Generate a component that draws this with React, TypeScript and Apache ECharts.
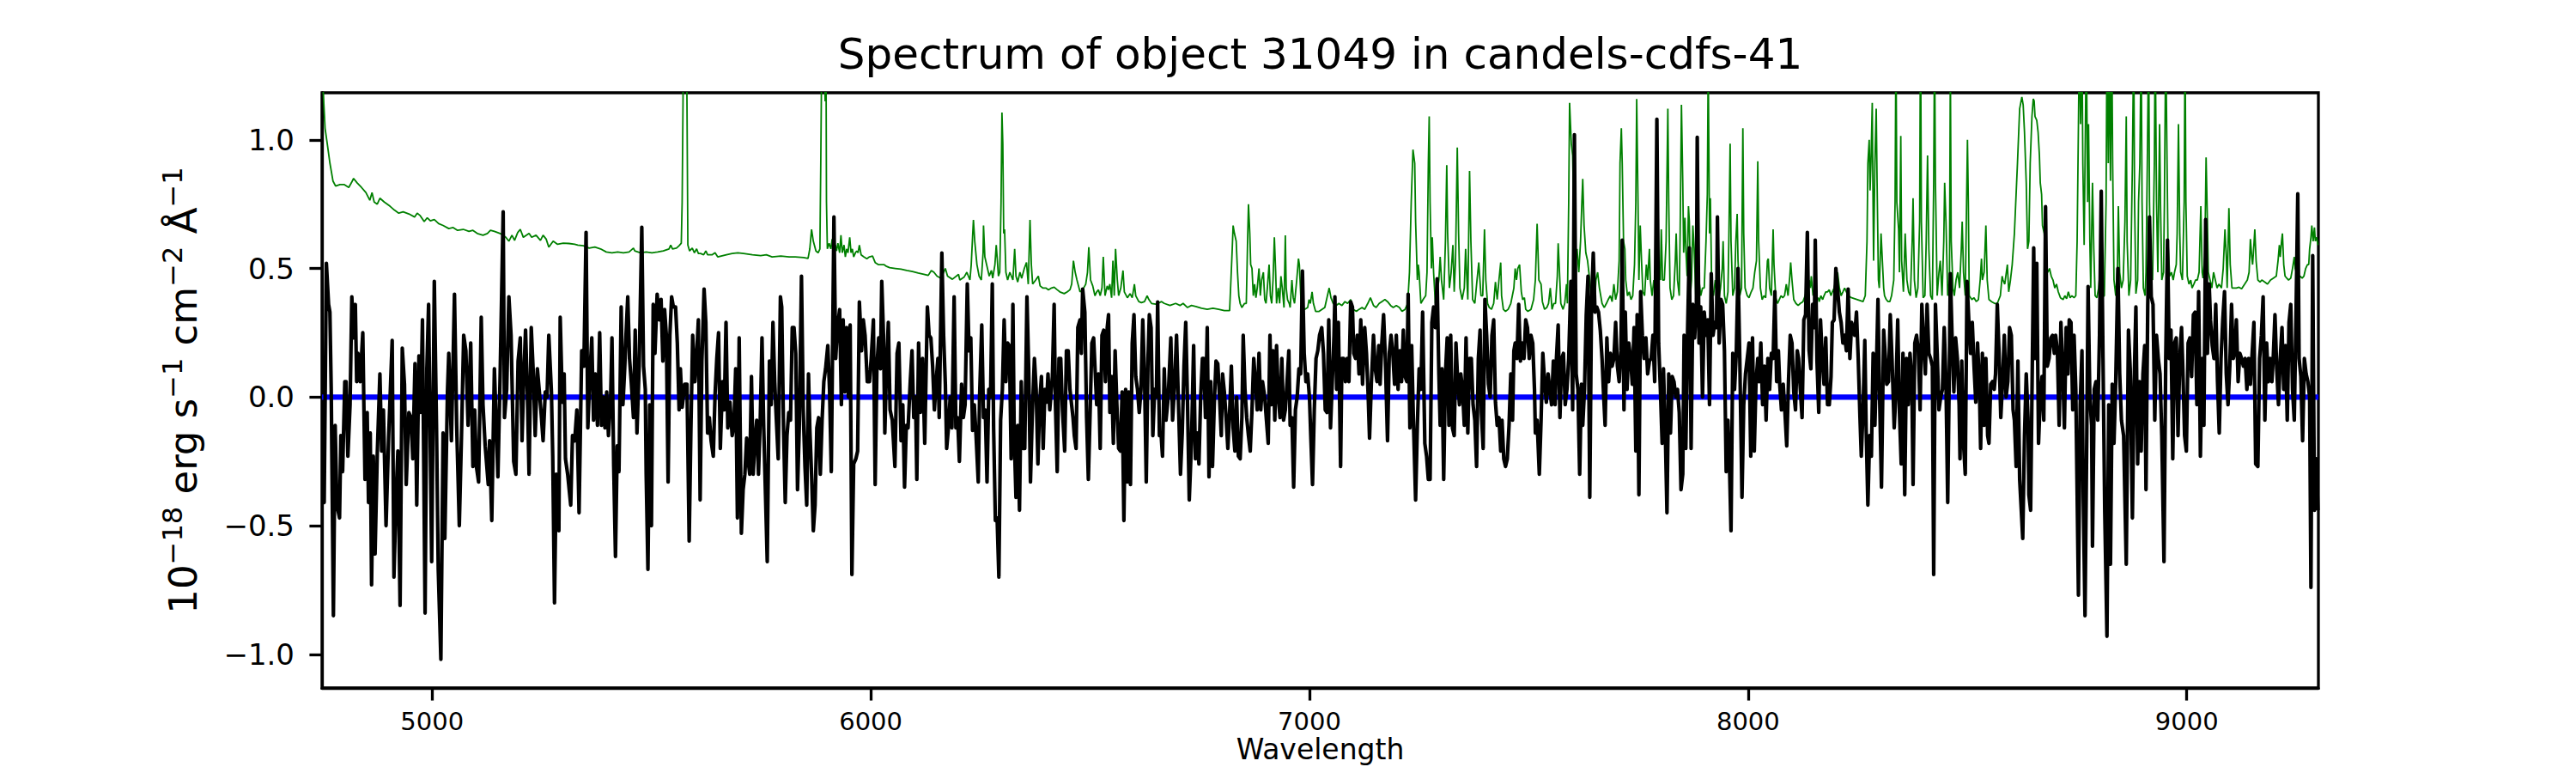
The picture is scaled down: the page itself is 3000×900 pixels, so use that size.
import React, { useEffect, useRef } from "react";
import * as echarts from "echarts";

// ---- Object spectrum (black), [wavelength Å, flux 1e-18 erg/s/cm2/Å] ----
const obj4750: [number, number][] = [[4749,-0.41],[4754,-0.41],[4759,0.52],[4764,0.36],[4767,0.33],[4770,0.03],[4775,-0.85],[4779,-0.11],[4783,-0.42],[4789,-0.47],[4792,-0.15],[4796,-0.29],[4801,0.06],[4804,0.06],[4808,-0.23],[4813,-0.03],[4817,0.39],[4821,0.23],[4825,0.36],[4828,0.06],[4831,0.17],[4836,0.06],[4842,0.25],[4847,-0.32],[4852,-0.06],[4855,-0.41],[4859,-0.14],[4862,-0.73],[4866,-0.23],[4870,-0.61],[4875,-0.22],[4881,0.09],[4885,-0.21],[4889,-0.05],[4895,-0.5],[4901,-0.15],[4909,0.22],[4913,-0.7],[4918,-0.38],[4922,-0.21],[4927,-0.81],[4932,0.19],[4937,0.05],[4941,-0.34],[4947,-0.06],[4952,-0.08],[4956,-0.24],[4961,0.13],[4965,-0.42],[4970,0.16],[4974,-0.06],[4978,0.3],[4984,-0.84],[4988,0.11],[4992,0.36],[4999,-0.64],[5005,0.45],[5010,-0.11],[5014,-0.67],[5020,-1.02],[5025,-0.14],[5029,-0.55],[5035,0.02],[5038,0.17],[5044,-0.17],[5051,0.4],[5056,-0.11],[5062,-0.5],[5067,-0.15],[5072,0.24],[5077,0.18],[5082,-0.11],[5088,0.21],[5093,-0.27],[5097,-0.05],[5101,-0.27],[5106,-0.33],[5112,0.31],[5116,-0.03],[5121,-0.19],[5128,-0.34],[5131,-0.17],[5136,-0.48],[5142,0.11],[5150,-0.31],[5155,0.08],[5162,0.72],[5165,-0.08],[5170,0.03],[5175,0.39],[5180,0.24],[5186,-0.25],[5191,-0.3],[5196,0.14],[5201,0.23],[5205,-0.17],[5209,0.08],[5213,0.26],[5217,0.03],[5221,-0.3],[5226,0.27],[5231,0.08],[5235,-0.15],[5240,0.11],[5244,0.03],[5248,-0.05],[5253,-0.17],[5258,0.02],[5262,0],[5266,0.24],[5272,0.02],[5275,-0.23],[5279,-0.8],[5283,-0.3],[5289,-0.52],[5292,0.31],[5297,-0.02],[5301,0.09],[5304,-0.24],[5309,-0.3],[5316,-0.42],[5320,-0.15]];
const obj5325: [number, number][] = [[5325,-0.17],[5330,-0.05],[5335,-0.45],[5341,0.18],[5346,0.12],[5351,0.64],[5355,-0.12],[5359,0.06],[5364,0.23],[5368,-0.09],[5372,0.09],[5377,-0.11],[5382,0.25],[5386,-0.11],[5390,0],[5394,-0.12],[5398,0.02],[5402,-0.15],[5407,0],[5410,0.23],[5414,-0.27],[5418,-0.62],[5422,-0.19],[5426,-0.29],[5431,0.35],[5435,-0.03],[5439,0.11],[5442,0.24],[5446,0.39],[5450,0.15],[5454,0.06],[5459,-0.08],[5463,0.26],[5467,-0.14],[5472,0.12],[5478,0.66],[5482,0.12],[5486,0.03],[5488,-0.3],[5492,-0.67],[5496,-0.03],[5500,-0.5],[5504,0.36],[5508,0.17],[5513,0.4],[5518,0.3],[5522,0.38],[5526,0.14],[5530,0.34],[5534,0.24],[5538,-0.33],[5542,0.24],[5546,0.39],[5550,0.35],[5555,0.35],[5559,0.21],[5563,-0.05],[5566,0.11],[5570,-0.04],[5576,0.05],[5581,0.05],[5586,-0.56],[5590,-0.12],[5594,0.24],[5599,0.06],[5603,0.16],[5607,0.3],[5611,-0.4],[5615,0.14],[5620,0.42],[5624,0.29],[5628,-0.14],[5632,-0.08],[5636,-0.17],[5641,-0.23],[5645,0.01],[5649,0.15],[5653,0.25],[5657,-0.2],[5662,0.06],[5666,-0.05],[5670,0.29],[5674,-0.12],[5679,-0.02],[5684,-0.15],[5688,-0.11],[5692,0.11],[5696,-0.47],[5700,0.23],[5705,-0.53],[5709,-0.36],[5713,-0.3],[5717,-0.16],[5720,-0.24],[5724,-0.3],[5728,0.08],[5732,-0.3],[5736,-0.17],[5740,-0.09],[5744,-0.3],[5748,-0.09],[5752,0.23],[5756,-0.12],[5760,-0.38],[5764,-0.64],[5769,0.14],[5773,-0.03],[5777,0.29],[5781,0.06],[5784,-0.06],[5789,-0.24],[5794,0.39],[5797,0.35],[5801,-0.11],[5805,-0.41],[5809,-0.15],[5813,-0.06],[5817,-0.09],[5821,0.27],[5825,0.27],[5829,0.17],[5833,-0.36],[5837,-0.12],[5842,0.47],[5846,-0.05],[5850,-0.27],[5854,-0.42],[5858,0.09],[5861,-0.12],[5865,-0.3],[5869,-0.52],[5873,-0.42],[5877,-0.12],[5881,-0.08],[5885,-0.3],[5889,-0.09]];
const obj5890: [number, number][] = [[5893,0.06],[5897,0.11],[5902,0.2],[5906,0.03],[5910,-0.29],[5916,0.7],[5920,0.15],[5924,0.27],[5929,0.34],[5933,-0.03],[5937,0.3],[5941,0.02],[5945,0.27],[5949,0],[5953,0.28],[5957,-0.69],[5961,-0.26],[5966,-0.24],[5970,-0.21],[5974,0.37],[5979,0.18],[5983,0.3],[5987,0.24],[5992,0.06],[5997,0.06],[6001,0.15],[6006,0.3],[6010,-0.34],[6014,0.12],[6018,0.23],[6022,0.11],[6025,0.45],[6029,0.24],[6032,-0.14],[6036,0.12],[6040,0.29],[6044,-0.05],[6049,-0.09],[6055,-0.27],[6060,0.17],[6064,0.21],[6069,-0.17],[6073,-0.03],[6077,-0.35],[6081,-0.11],[6085,-0.12],[6090,0.06],[6094,0.18],[6098,-0.08],[6102,0],[6105,-0.32],[6109,0.21],[6113,-0.06],[6118,0.15],[6123,-0.18],[6129,0.35],[6133,0.24],[6137,0.23],[6141,0.12],[6145,-0.05],[6149,0.06],[6153,0.15],[6156,-0.08],[6162,0.56],[6166,0.24],[6170,0.05],[6173,-0.2],[6177,-0.12],[6181,0],[6185,-0.12],[6190,0.39],[6194,-0.12],[6198,-0.08],[6202,-0.25],[6207,0.05],[6211,-0.08],[6215,-0.03],[6220,0.44],[6224,0.18],[6228,0.23],[6232,-0.13],[6236,-0.03],[6240,-0.15],[6245,-0.33],[6248,0],[6253,0.28],[6257,-0.08],[6261,-0.05],[6265,-0.33],[6269,0.03],[6273,0],[6277,0.44],[6280,-0.12],[6284,-0.48],[6288,-0.47],[6292,-0.7],[6296,-0.09],[6300,0.03],[6304,0.3],[6308,0.06],[6312,0.21],[6316,0.2],[6320,-0.24],[6324,0.36],[6327,-0.15],[6331,-0.39],[6335,-0.11],[6339,-0.44],[6343,0.06],[6347,-0.2],[6351,-0.2],[6356,0.39],[6360,0.11],[6364,-0.33],[6368,-0.08],[6373,0.15],[6377,0.03],[6381,-0.26],[6385,-0.02],[6389,0.08],[6393,-0.2],[6397,0.03],[6401,-0.02],[6404,0.09],[6408,-0.05],[6414,0.08],[6418,0.36],[6421,-0.03],[6425,-0.29],[6429,0.15],[6433,0.15],[6437,-0.05],[6442,-0.21],[6446,0.18],[6450,0.18],[6454,0.03]];
const obj6460: [number, number][] = [[6461,-0.08],[6464,-0.15],[6468,-0.2],[6472,0.27],[6477,0.3],[6480,0.17],[6483,0.42],[6488,0.33],[6492,-0.08],[6496,-0.32],[6500,-0.06],[6504,0.21],[6508,0.23],[6511,0.12],[6515,-0.03],[6519,0.09],[6523,-0.2],[6527,0.24],[6531,0.26],[6535,0.06],[6539,0.27],[6542,0.32],[6545,-0.06],[6549,0.08],[6553,-0.18],[6557,0.18],[6561,-0.03],[6565,-0.2],[6569,-0.21],[6573,0.02],[6577,-0.48],[6581,0.03],[6585,-0.33],[6588,0.02],[6592,-0.34],[6596,0.21],[6600,0.32],[6604,0.08],[6608,0.03],[6612,-0.06],[6616,0.03],[6620,0.3],[6624,0.08],[6628,-0.33],[6632,0.15],[6635,0.32],[6639,0.27],[6643,-0.15],[6647,0.03],[6651,0],[6654,0.37],[6658,-0.15],[6662,-0.15],[6665,-0.23],[6669,0.11],[6673,-0.09],[6678,0],[6684,0.23],[6688,-0.09],[6692,0.03],[6697,0.24],[6701,0],[6706,-0.3],[6710,-0.14],[6714,0.12],[6718,0.29],[6722,-0.02],[6726,-0.4],[6731,-0.18],[6736,0.2],[6740,-0.24],[6744,-0.14],[6748,-0.26],[6752,0],[6756,0.15],[6759,0.15],[6763,-0.08],[6767,0.27],[6771,-0.31],[6775,0.06],[6779,-0.27],[6783,-0.03],[6787,0.14],[6791,0.13],[6795,0],[6799,-0.15],[6802,0.09],[6806,0.02],[6810,-0.08],[6814,-0.2],[6818,-0.06],[6822,0.12],[6826,-0.12],[6830,-0.21],[6834,0],[6838,-0.23],[6842,-0.24],[6846,-0.08],[6849,0.24],[6853,0.03],[6857,-0.08],[6861,-0.15],[6865,-0.21],[6869,-0.05],[6873,0.15],[6877,0.06],[6881,-0.05],[6885,0.17],[6889,-0.05],[6893,0.06],[6898,0],[6902,-0.09],[6906,-0.18],[6910,0.24],[6913,-0.03],[6917,0.18],[6921,-0.09],[6925,0.2],[6929,0],[6933,-0.08],[6937,0.15],[6941,-0.09],[6945,-0.05],[6949,0.06],[6953,0.18],[6956,-0.11],[6960,-0.08],[6964,-0.35],[6968,-0.05],[6972,0],[6976,0.11],[6980,0.09],[6984,0.49],[6988,0.17],[6992,0.06],[6996,0.09],[7000,0],[7003,-0.15],[7007,-0.34],[7011,-0.05],[7015,0.15],[7019,0.18],[7023,0.24]];
const obj7030: [number, number][] = [[7028,0.27],[7032,0.17],[7036,-0.05],[7040,-0.06],[7044,0.3],[7048,-0.12],[7052,0.06],[7056,0.24],[7058,0.39],[7062,0.03],[7066,0.29],[7071,-0.27],[7074,0.15],[7078,0.15],[7082,0.06],[7086,0.15],[7090,0.06],[7094,0.37],[7098,0.35],[7101,0.17],[7105,0.15],[7109,0.24],[7113,0.09],[7117,0.3],[7121,0.05],[7126,0.27],[7130,0.17],[7134,0],[7137,-0.16],[7141,0.05],[7146,0.24],[7150,0.11],[7154,0.06],[7158,0.2],[7161,0.05],[7165,0.21],[7169,0.32],[7173,0.15],[7178,-0.17],[7182,0.17],[7186,0.24],[7190,0.17],[7194,0.05],[7198,0.24],[7202,0.03],[7206,0.18],[7210,0.06],[7214,0.26],[7218,0.08],[7222,0.06],[7225,0.4],[7229,-0.12],[7233,0.2],[7237,-0.09],[7242,-0.4],[7246,-0.11],[7250,0.11],[7254,0.03],[7258,0.33],[7263,-0.18],[7267,-0.23],[7271,-0.32],[7275,-0.32],[7279,0.29],[7283,0.35],[7287,0.27],[7291,0.46],[7295,0.09],[7298,-0.11],[7302,0.11],[7306,-0.32],[7310,0.09],[7314,0.23],[7318,-0.11],[7322,0.24],[7326,-0.12],[7330,-0.15],[7334,0.21],[7338,0.06],[7342,-0.03],[7345,0.09],[7349,0.03],[7353,-0.11],[7357,0.23],[7361,-0.14],[7365,0.15],[7369,0.15],[7373,-0.03],[7377,-0.09],[7381,-0.27],[7385,0.15],[7389,0.26],[7392,-0.06],[7396,-0.2],[7400,0.38],[7404,0.24],[7408,0.05],[7412,0],[7416,0.24],[7420,0.3],[7424,-0.02],[7428,-0.11],[7432,-0.08],[7436,-0.21],[7439,-0.09],[7443,-0.24],[7447,-0.27],[7451,-0.24],[7455,-0.11],[7459,0.09],[7463,-0.09],[7466,0.18],[7469,0.21],[7473,0.15],[7477,0.36],[7481,0.14],[7485,0.21],[7489,0.15],[7493,0.3],[7497,0.27],[7501,0.15],[7505,0.24],[7509,0.21],[7513,0.03],[7515,-0.14],[7519,-0.09],[7524,-0.3],[7528,-0.09],[7532,0.17],[7536,0.06],[7540,-0.02],[7544,0.09],[7548,0.03],[7552,-0.03],[7556,0.14],[7560,-0.03],[7563,0.15],[7567,0.28],[7571,-0.08],[7575,0.15],[7579,0.17],[7583,-0.03],[7587,0.03],[7591,0.15]];
const obj7595: [number, number][] = [[7596,0.45],[7600,-0.05],[7604,1.02],[7608,0.09],[7612,0.03],[7616,-0.3],[7620,0.05],[7623,-0.11],[7627,0.03],[7631,0.32],[7635,0.47],[7639,-0.39],[7643,0.36],[7647,0.56],[7651,0.33],[7655,0.35],[7659,0.33],[7663,0.26],[7667,0.15],[7670,0.03],[7674,-0.11],[7678,0.23],[7682,0.06],[7686,0.17],[7690,0.12],[7694,0.15],[7698,0.29],[7702,0.12],[7706,0.06],[7710,0.18],[7713,0.61],[7717,-0.05],[7720,0.33],[7724,0.03],[7728,0.21],[7732,0.15],[7736,0.05],[7740,0.27],[7744,-0.21],[7747,0.32],[7751,-0.38],[7755,0.41],[7759,0.24],[7763,0.15],[7767,0.23],[7771,0.09],[7775,0.14],[7779,0.15],[7783,0.24],[7787,0.06],[7792,1.08],[7796,0.21],[7800,0.03],[7804,-0.18],[7807,0.11],[7811,-0.12],[7815,-0.45],[7819,0.09],[7823,-0.14],[7827,0.08],[7831,0.06],[7835,0],[7839,0.03],[7843,-0.06],[7847,-0.36],[7851,-0.3],[7854,0.24],[7858,-0.2],[7862,0.26],[7866,0.58],[7870,-0.2],[7874,0.36],[7878,0.23],[7882,0.35],[7884,1.01],[7888,0.21],[7892,0.35],[7896,0],[7900,0.33],[7904,0.24],[7908,0.3],[7912,-0.03],[7916,0.48],[7920,0.24],[7924,0.29],[7928,0.27],[7930,0.7],[7934,0.21],[7938,0.38],[7942,0.36],[7946,0.18],[7950,-0.29],[7954,-0.09],[7958,-0.3],[7961,-0.52],[7965,0.17],[7969,0.03],[7973,0.17],[7977,0.5],[7981,0.15],[7986,-0.39],[7990,-0.03],[7994,0.09],[7998,0.15],[8002,0.21],[8006,-0.23],[8010,0.23],[8014,-0.21],[8018,0.06],[8022,0.15],[8025,0.06],[8029,0.21],[8033,-0.03],[8037,0.12],[8041,-0.09],[8045,0.15],[8049,0.03],[8053,0.17],[8057,0.15],[8061,0.41],[8065,0.06],[8069,0.18],[8072,0.05],[8076,-0.05],[8080,0.05],[8084,-0.06],[8088,-0.19],[8092,0.06],[8096,0.24],[8100,0.21],[8104,0.02],[8108,-0.05],[8112,0.18],[8115,0.15],[8119,0.03],[8123,-0.08],[8127,0.3],[8131,0.32],[8135,0.64],[8139,0.18],[8143,0.11],[8147,0.36],[8151,0.27],[8153,0.61],[8157,0.14],[8161,-0.06]];
const obj8165: [number, number][] = [[8165,0.3],[8169,0.15],[8173,0.05],[8177,0.23],[8181,-0.03],[8185,-0.03],[8189,0.08],[8192,0.29],[8196,0.3],[8200,0.5],[8204,0.42],[8208,0.33],[8212,0.29],[8216,0.21],[8220,0.24],[8224,0.18],[8228,0.42],[8232,0.15],[8236,0.29],[8239,0.27],[8243,0.24],[8247,0.33],[8251,0.15],[8255,-0.08],[8258,-0.23],[8262,-0.05],[8266,0.22],[8269,-0.12],[8273,-0.42],[8277,-0.15],[8281,-0.23],[8285,0.17],[8289,-0.11],[8293,0.15],[8296,0.38],[8299,0.06],[8304,-0.35],[8309,0.26],[8313,0.15],[8316,0.05],[8320,0.06],[8324,0.32],[8328,0.15],[8333,-0.12],[8337,0.02],[8341,0.3],[8345,-0.06],[8349,-0.26],[8353,0.17],[8357,-0.38],[8361,0.15],[8365,-0.03],[8369,0.17],[8373,0.08],[8376,-0.34],[8380,0.21],[8384,0.24],[8388,0.18],[8392,-0.05],[8396,0.36],[8400,0.21],[8404,0.09],[8408,0.36],[8412,0.17],[8416,0.15],[8420,0.12],[8423,-0.69],[8427,0.36],[8431,0.17],[8435,-0.05],[8439,0],[8443,0.03],[8447,0.27],[8451,0.06],[8455,-0.41],[8459,0.15],[8461,0.48],[8465,0.23],[8469,0.02],[8473,0.23],[8477,0.15],[8481,-0.03],[8483,-0.24],[8487,0.14],[8491,-0.18],[8495,-0.3],[8499,0.45],[8503,0.3],[8507,0.17],[8511,0.29],[8515,0.12],[8519,-0.02],[8523,0.21],[8527,0.06],[8530,-0.2],[8534,0.17],[8538,-0.11],[8542,0.15],[8546,-0.15],[8549,-0.18],[8553,0.05],[8557,0.06],[8561,0.03],[8564,0.09],[8568,0.36],[8572,0.17],[8576,-0.08],[8580,0.06],[8584,0.24],[8588,0],[8592,0.06],[8596,0.27],[8600,0.24],[8604,-0.05],[8607,-0.09],[8611,-0.27],[8615,0.14],[8619,-0.32],[8623,-0.45],[8626,-0.55],[8630,-0.15],[8634,0.09],[8638,-0.08],[8640,-0.38],[8644,-0.44],[8648,0.15],[8651,0.58],[8654,0.15],[8658,0.52],[8662,-0.18],[8666,0],[8670,0.08],[8674,-0.09],[8678,0.74],[8682,0.12],[8686,0.15],[8690,0.23],[8694,0.24],[8698,0.17],[8701,0.24],[8705,0.18],[8709,-0.11],[8713,0.29],[8717,0.12],[8721,-0.12],[8725,0.27],[8729,0.09]];
const obj8730: [number, number][] = [[8732,0.3],[8736,0.29],[8740,-0.05],[8743,0.24],[8747,0.03],[8753,-0.77],[8757,-0.03],[8761,0.18],[8764,-0.39],[8768,-0.85],[8772,-0.15],[8775,0.43],[8779,0],[8783,-0.11],[8785,-0.58],[8789,0.03],[8793,0.06],[8797,-0.09],[8801,0.24],[8805,0.8],[8809,0.15],[8813,-0.45],[8818,-0.93],[8822,-0.03],[8826,-0.65],[8830,0.05],[8834,-0.18],[8838,0.06],[8843,0.5],[8847,0.09],[8851,-0.09],[8856,-0.15],[8862,-0.65],[8867,0.26],[8871,0.11],[8876,-0.47],[8880,0.06],[8884,0.35],[8888,-0.26],[8892,0.06],[8896,-0.21],[8900,0.09],[8904,0.2],[8907,-0.36],[8911,0.36],[8915,0.7],[8919,0.39],[8923,0.36],[8927,-0.09],[8931,0.24],[8935,0.15],[8939,0.09],[8943,-0.15],[8948,-0.64],[8952,0.15],[8956,0.61],[8960,0.15],[8964,0.26],[8968,-0.24],[8972,0.21],[8976,0.23],[8980,-0.15],[8984,0.15],[8988,0.27],[8991,0.11],[8995,-0.15],[8999,-0.21],[9003,0.21],[9007,0.23],[9011,0.08],[9015,0.32],[9019,0.33],[9023,-0.03],[9027,0.41],[9031,-0.23],[9035,0.15],[9039,-0.11],[9043,0.69],[9047,0.17],[9051,0.44],[9054,0.3],[9058,0.2],[9062,0.15],[9066,0.36],[9070,0.06],[9074,-0.14],[9078,0.15],[9082,0.3],[9086,0.41],[9090,0.09],[9094,-0.03],[9098,0.12],[9102,0.36],[9106,0.15],[9110,0.18],[9113,0.3],[9117,0.06],[9121,0.17],[9125,0.15],[9129,0.12],[9133,0.15],[9137,0.03],[9141,0.15],[9145,0.05],[9149,0.17],[9153,0.29],[9157,-0.26],[9162,-0.27],[9166,0.15],[9170,0.24],[9174,0.39],[9178,-0.09],[9182,0.21],[9186,0.06],[9190,0.15],[9194,0.06],[9197,0.15],[9201,0.32],[9205,0.11],[9209,-0.03],[9213,0.15],[9217,0.27],[9221,0.03],[9225,0.2],[9229,-0.09],[9233,0.29],[9237,0.36],[9241,0.03],[9245,-0.09],[9249,0.32],[9253,0.79],[9256,0.15],[9260,0.08],[9264,-0.17],[9268,0.15],[9272,0.09],[9276,0.06],[9280,0],[9283,-0.74],[9287,0.55],[9291,-0.44],[9295,-0.24],[9299,-0.44]];

// ---- Sky / noise spectrum (green) ----
const sky4750: [number, number][] = [[4749,1.3],[4752,1.18],[4756,1.045],[4761,0.985],[4767,0.91],[4774,0.84],[4780,0.82],[4790,0.826],[4800,0.826],[4810,0.815],[4816,0.833],[4821,0.85],[4829,0.833],[4839,0.815],[4849,0.795],[4858,0.765],[4863,0.795],[4868,0.758],[4875,0.75],[4881,0.773],[4891,0.758],[4904,0.742],[4914,0.727],[4924,0.715],[4934,0.72],[4947,0.712],[4960,0.7],[4966,0.715],[4973,0.705],[4982,0.682],[4989,0.697],[4996,0.685],[5005,0.69],[5015,0.674],[5025,0.667],[5038,0.655],[5048,0.659],[5058,0.648],[5071,0.652],[5084,0.644],[5093,0.648],[5103,0.636],[5116,0.629],[5126,0.636],[5133,0.648],[5142,0.644],[5155,0.636],[5168,0.621],[5175,0.606],[5182,0.629],[5188,0.609],[5195,0.639],[5201,0.652],[5208,0.621],[5221,0.636],[5227,0.621],[5237,0.629],[5247,0.609],[5253,0.629],[5260,0.614],[5266,0.583],[5276,0.606],[5286,0.594],[5299,0.598],[5312,0.597],[5325,0.594]];
const sky5330: [number, number][] = [[5332,0.591],[5345,0.588],[5358,0.579],[5371,0.583],[5384,0.576],[5397,0.564],[5410,0.561],[5423,0.564],[5436,0.561],[5449,0.564],[5459,0.579],[5462,0.568],[5475,0.561],[5488,0.564],[5501,0.561],[5514,0.564],[5527,0.568],[5540,0.576],[5544,0.591],[5548,0.576],[5557,0.579],[5563,0.588],[5568,0.598],[5570,0.758],[5572,1.15],[5574,1.8],[5578,1.8],[5581,1.15],[5583,0.591],[5587,0.568],[5593,0.579],[5598,0.561],[5603,0.576],[5607,0.558],[5612,0.558],[5619,0.553],[5624,0.568],[5628,0.553],[5638,0.553],[5645,0.561],[5651,0.545],[5671,0.553],[5684,0.558],[5697,0.561],[5710,0.558],[5730,0.553],[5749,0.55],[5762,0.553],[5775,0.545],[5795,0.548],[5814,0.545],[5828,0.545],[5847,0.542],[5857,0.539],[5861,0.576],[5865,0.652],[5869,0.606],[5875,0.568],[5880,0.561],[5884,0.576],[5886,0.909],[5889,1.5]];
const sky5890: [number, number][] = [[5893,1.4],[5896,1.15],[5898,1.3],[5899,0.758],[5901,0.576],[5905,0.598],[5909,0.576],[5912,0.614],[5916,0.576],[5919,0.591],[5922,0.568],[5925,0.598],[5929,0.561],[5932,0.629],[5935,0.561],[5939,0.591],[5942,0.545],[5945,0.576],[5948,0.561],[5952,0.621],[5955,0.561],[5958,0.576],[5961,0.545],[5965,0.561],[5968,0.568],[5971,0.561],[5974,0.591],[5978,0.553],[5984,0.545],[5991,0.538],[5997,0.545],[6004,0.548],[6010,0.523],[6017,0.515],[6030,0.515],[6036,0.508],[6043,0.503],[6056,0.5],[6069,0.497],[6082,0.492],[6095,0.488],[6108,0.482],[6121,0.477],[6131,0.473],[6138,0.492],[6144,0.485],[6151,0.47],[6160,0.462],[6170,0.5],[6175,0.47],[6186,0.458],[6200,0.477],[6203,0.455],[6213,0.467],[6219,0.485],[6226,0.455],[6229,0.515],[6232,0.621],[6234,0.689],[6237,0.606],[6242,0.515],[6247,0.47],[6252,0.455],[6256,0.561],[6257,0.667],[6260,0.545],[6264,0.515],[6266,0.5],[6270,0.47],[6275,0.492],[6278,0.462],[6283,0.515],[6286,0.591],[6288,0.545],[6291,0.47],[6294,0.485],[6297,0.758],[6299,1.106],[6301,0.985],[6303,0.636],[6305,0.652],[6308,0.485],[6312,0.455],[6317,0.485],[6324,0.455],[6328,0.576],[6331,0.47],[6335,0.447],[6340,0.485],[6344,0.462],[6350,0.5],[6355,0.523],[6359,0.439],[6363,0.689],[6366,0.515],[6369,0.439],[6376,0.455],[6382,0.47],[6386,0.432],[6392,0.424],[6399,0.424],[6405,0.417],[6412,0.424],[6418,0.427],[6425,0.417],[6431,0.409],[6441,0.402],[6448,0.409],[6454,0.417],[6458,0.439]];
const sky6460: [number, number][] = [[6462,0.53],[6466,0.485],[6470,0.455],[6477,0.409],[6483,0.417],[6490,0.439],[6494,0.485],[6497,0.583],[6501,0.455],[6506,0.432],[6511,0.394],[6515,0.409],[6519,0.417],[6523,0.394],[6527,0.424],[6530,0.545],[6534,0.394],[6539,0.432],[6542,0.417],[6545,0.439],[6549,0.386],[6552,0.53],[6555,0.394],[6558,0.576],[6562,0.455],[6565,0.394],[6570,0.424],[6575,0.492],[6578,0.409],[6585,0.386],[6591,0.402],[6596,0.386],[6601,0.439],[6604,0.394],[6611,0.371],[6617,0.367],[6624,0.371],[6630,0.394],[6634,0.379],[6640,0.364],[6650,0.361],[6663,0.371],[6669,0.364],[6682,0.356],[6695,0.364],[6705,0.356],[6712,0.364],[6722,0.348],[6731,0.356],[6741,0.352],[6754,0.345],[6767,0.341],[6780,0.345],[6793,0.341],[6806,0.336],[6818,0.336],[6821,0.455],[6824,0.576],[6826,0.667],[6829,0.636],[6833,0.606],[6836,0.485],[6839,0.394],[6842,0.364],[6846,0.348],[6852,0.364],[6856,0.364],[6859,0.606],[6861,0.75],[6864,0.636],[6866,0.515],[6869,0.5],[6872,0.394],[6875,0.439],[6878,0.386],[6881,0.424],[6885,0.5],[6888,0.394],[6891,0.455],[6895,0.485],[6898,0.379],[6901,0.364],[6904,0.424],[6908,0.515],[6911,0.394],[6914,0.364],[6917,0.455],[6920,0.621],[6923,0.485],[6925,0.364],[6929,0.424],[6932,0.364],[6935,0.47],[6938,0.424],[6942,0.348],[6945,0.629],[6947,0.424],[6950,0.379],[6954,0.364],[6956,0.348],[6960,0.455],[6963,0.386],[6966,0.364],[6971,0.455],[6975,0.538],[6977,0.515],[6981,0.364],[6984,0.348],[6989,0.341],[6996,0.348],[6999,0.379],[7002,0.364],[7006,0.409],[7009,0.364],[7014,0.333],[7022,0.333]];
const sky7030: [number, number][] = [[7035,0.348],[7041,0.394],[7045,0.424],[7049,0.386],[7054,0.364],[7061,0.356],[7067,0.364],[7074,0.356],[7081,0.371],[7087,0.364],[7094,0.379],[7100,0.341],[7107,0.333],[7113,0.341],[7120,0.348],[7126,0.341],[7133,0.364],[7139,0.386],[7146,0.356],[7152,0.348],[7159,0.364],[7165,0.371],[7172,0.379],[7178,0.371],[7185,0.356],[7191,0.348],[7198,0.356],[7205,0.348],[7211,0.333],[7218,0.341],[7224,0.364],[7228,0.485],[7232,0.758],[7236,0.962],[7240,0.909],[7242,0.682],[7246,0.455],[7248,0.515],[7250,0.485],[7254,0.364],[7259,0.379],[7265,0.394],[7268,0.485],[7271,0.909],[7273,1.091],[7275,0.758],[7278,0.5],[7280,0.621],[7283,0.485],[7287,0.364],[7291,0.409],[7295,0.455],[7298,0.545],[7301,0.455],[7306,0.379],[7310,0.606],[7313,0.902],[7315,0.636],[7319,0.424],[7323,0.485],[7327,0.591],[7330,0.409],[7333,0.53],[7337,0.97],[7340,0.636],[7343,0.424],[7348,0.379],[7353,0.424],[7356,0.576],[7359,0.455],[7361,0.379],[7365,0.879],[7368,0.606],[7372,0.379],[7377,0.364],[7382,0.455],[7386,0.523],[7391,0.394],[7395,0.394],[7399,0.652],[7402,0.455],[7406,0.364],[7410,0.348],[7415,0.341],[7420,0.364],[7424,0.447],[7428,0.379],[7432,0.455],[7436,0.523],[7438,0.394],[7442,0.341],[7447,0.333],[7453,0.341],[7459,0.364],[7466,0.424],[7469,0.5],[7472,0.455],[7475,0.5],[7479,0.515],[7483,0.409],[7486,0.379],[7490,0.386],[7493,0.341],[7498,0.333],[7505,0.341],[7511,0.379],[7515,0.455],[7519,0.674],[7523,0.455],[7528,0.439],[7531,0.371],[7536,0.341],[7541,0.348],[7545,0.364],[7549,0.424],[7553,0.341],[7557,0.364],[7561,0.364],[7565,0.47],[7567,0.598],[7570,0.485],[7573,0.364],[7578,0.341],[7582,0.364],[7586,0.439],[7588,0.364],[7591,0.758],[7593,1.144],[7595,1.061]];
const sky7595: [number, number][] = [[7597,0.985],[7600,0.939],[7603,0.682],[7606,0.515],[7610,0.576],[7614,0.485],[7618,0.606],[7621,0.758],[7623,0.848],[7626,0.667],[7630,0.561],[7634,0.53],[7638,0.47],[7642,0.394],[7646,0.424],[7650,0.364],[7653,0.455],[7657,0.485],[7661,0.424],[7667,0.364],[7672,0.348],[7677,0.364],[7681,0.379],[7686,0.394],[7690,0.371],[7694,0.439],[7698,0.379],[7702,0.409],[7706,0.53],[7708,0.909],[7711,1.045],[7713,0.909],[7716,0.606],[7719,0.576],[7721,0.455],[7725,0.394],[7729,0.409],[7733,0.379],[7737,0.394],[7741,0.515],[7744,0.758],[7746,1.159],[7749,0.758],[7751,0.455],[7754,0.667],[7757,0.53],[7760,0.409],[7764,0.394],[7768,0.515],[7771,0.455],[7775,0.576],[7777,0.455],[7781,0.394],[7785,0.455],[7789,0.394],[7792,0.409],[7796,0.485],[7800,0.455],[7802,0.652],[7805,0.455],[7809,0.455],[7813,0.606],[7817,1.121],[7819,0.758],[7822,0.424],[7826,0.379],[7830,0.394],[7834,0.53],[7836,0.636],[7839,0.455],[7843,0.394],[7845,0.636],[7848,1.136],[7851,0.833],[7853,0.561],[7856,0.697],[7858,0.576],[7861,0.47],[7864,0.742],[7866,0.682],[7869,0.409],[7871,0.455],[7874,0.667],[7877,0.576],[7881,0.379],[7884,0.424],[7888,0.455],[7892,0.394],[7896,0.424],[7900,0.424],[7904,0.606],[7907,0.788],[7909,1.3],[7912,0.636],[7914,0.773],[7917,0.424],[7921,0.394],[7925,0.455],[7929,0.394],[7933,0.379],[7937,0.424],[7941,0.5],[7943,0.606],[7946,0.394],[7950,0.364],[7954,0.409],[7956,0.606],[7959,0.985],[7961,0.606],[7965,0.394],[7969,0.424],[7972,0.606],[7975,0.712],[7977,0.53],[7981,0.394],[7985,0.424],[7988,1.045],[7990,0.636],[7993,0.424],[7998,0.394],[8002,0.386],[8007,0.409],[8011,0.424],[8015,0.485],[8019,0.53],[8022,0.917],[8024,0.606],[8028,0.424],[8032,0.379],[8036,0.394],[8040,0.386],[8044,0.53],[8046,0.538],[8049,0.424],[8053,0.394],[8057,0.652],[8059,0.515],[8063,0.386],[8067,0.364],[8071,0.379],[8075,0.394],[8079,0.386],[8083,0.394],[8087,0.439],[8091,0.394],[8095,0.47],[8097,0.523],[8100,0.455],[8104,0.379],[8109,0.364],[8114,0.356],[8119,0.364],[8125,0.371],[8130,0.394],[8135,0.424],[8139,0.455],[8142,0.424],[8144,0.47],[8148,0.394],[8152,0.424],[8156,0.379],[8160,0.386]];
const sky8165: [number, number][] = [[8162,0.371],[8166,0.394],[8170,0.379],[8173,0.394],[8177,0.409],[8181,0.409],[8185,0.417],[8189,0.394],[8192,0.409],[8196,0.424],[8200,0.455],[8204,0.485],[8208,0.424],[8212,0.394],[8216,0.409],[8220,0.424],[8224,0.409],[8228,0.394],[8236,0.386],[8249,0.379],[8262,0.371],[8267,0.394],[8271,0.606],[8273,0.909],[8276,1.0],[8278,0.803],[8280,0.909],[8283,1.144],[8284,0.909],[8286,0.53],[8289,0.909],[8292,1.121],[8294,0.833],[8297,0.455],[8299,0.424],[8303,0.636],[8306,0.53],[8309,0.424],[8311,0.394],[8315,0.379],[8319,0.371],[8323,0.371],[8327,0.394],[8332,0.455],[8335,0.758],[8337,1.4],[8339,0.758],[8343,0.652],[8345,0.485],[8348,1.015],[8350,0.53],[8354,0.409],[8358,0.636],[8362,0.455],[8366,0.409],[8370,0.394],[8374,0.606],[8376,0.773],[8379,0.455],[8383,0.386],[8387,0.424],[8391,0.682],[8393,1.5],[8395,0.682],[8399,0.386],[8403,0.394],[8406,0.606],[8409,0.939],[8412,0.576],[8416,0.394],[8420,0.379],[8423,0.833],[8425,1.4],[8427,0.833],[8431,0.394],[8435,0.485],[8438,0.53],[8442,0.394],[8446,0.606],[8448,0.833],[8451,0.682],[8455,0.394],[8459,0.455],[8461,1.3],[8463,0.606],[8467,0.424],[8470,0.394],[8474,0.455],[8478,0.485],[8482,0.424],[8486,0.576],[8488,0.682],[8491,0.485],[8495,0.394],[8498,0.758],[8500,1.0],[8502,0.758],[8504,0.394],[8510,0.379],[8515,0.386],[8520,0.371],[8525,0.379],[8529,0.455],[8532,0.538],[8534,0.455],[8538,0.485],[8542,0.667],[8545,0.455],[8549,0.379],[8555,0.371],[8562,0.364],[8568,0.364],[8575,0.394],[8579,0.47],[8581,0.455],[8585,0.439],[8591,0.515],[8594,0.409],[8598,0.455],[8602,0.515],[8607,0.636],[8614,0.909],[8619,1.121],[8624,1.167],[8627,1.136],[8630,1.03],[8634,0.833],[8637,0.576],[8640,0.606],[8643,0.909],[8647,1.091],[8650,1.159],[8652,1.152],[8654,1.091],[8658,1.076],[8661,1.03],[8664,0.939],[8666,0.833],[8669,0.788],[8671,0.667],[8675,0.636],[8679,0.515],[8683,0.485],[8687,0.5],[8691,0.47],[8695,0.455],[8699,0.424],[8703,0.439],[8707,0.409],[8712,0.386],[8718,0.379],[8722,0.394],[8726,0.382]];
const sky8730: [number, number][] = [[8730,0.409],[8734,0.386],[8738,0.394],[8743,0.386],[8747,0.394],[8750,0.606],[8753,1.061],[8755,1.4],[8758,1.061],[8761,1.4],[8763,0.909],[8766,0.591],[8768,0.909],[8771,1.4],[8774,0.758],[8776,1.061],[8779,0.606],[8781,0.424],[8785,0.833],[8788,0.576],[8791,0.394],[8795,0.386],[8799,0.424],[8802,0.485],[8806,0.386],[8812,0.394],[8816,0.758],[8818,1.4],[8821,0.909],[8823,1.4],[8826,0.841],[8829,1.4],[8831,0.909],[8834,0.455],[8838,0.394],[8842,0.515],[8844,0.742],[8847,0.485],[8851,0.424],[8855,0.455],[8859,0.682],[8862,1.091],[8864,0.606],[8868,0.394],[8872,0.455],[8876,0.909],[8879,1.4],[8881,0.758],[8884,0.402],[8888,0.455],[8890,0.758],[8893,0.909],[8896,1.4],[8898,0.758],[8901,0.424],[8905,0.394],[8907,0.485],[8910,0.909],[8913,1.4],[8915,0.758],[8918,0.47],[8922,0.455],[8926,0.909],[8928,1.4],[8931,0.758],[8934,0.485],[8938,1.061],[8940,0.758],[8943,0.455],[8947,0.485],[8949,0.758],[8952,1.4],[8955,0.909],[8957,0.606],[8961,0.47],[8965,0.485],[8969,0.455],[8972,0.485],[8976,0.515],[8978,0.636],[8981,1.061],[8984,0.636],[8986,0.485],[8990,0.455],[8994,0.758],[8996,1.4],[8998,0.758],[9001,0.47],[9005,0.439],[9009,0.455],[9012,0.424],[9016,0.439],[9020,0.455],[9024,0.455],[9028,0.485],[9032,0.742],[9035,0.485],[9037,0.462],[9041,0.545],[9044,0.932],[9047,0.682],[9049,0.485],[9053,0.455],[9057,0.424],[9061,0.485],[9065,0.455],[9069,0.424],[9073,0.439],[9079,0.424],[9083,0.5],[9087,0.652],[9090,0.545],[9092,0.424],[9096,0.735],[9099,0.515],[9103,0.424],[9108,0.424],[9113,0.424],[9119,0.427],[9125,0.421],[9132,0.439],[9138,0.455],[9142,0.485],[9145,0.614],[9148,0.545],[9150,0.515],[9153,0.591],[9155,0.652],[9158,0.53],[9162,0.455],[9167,0.447],[9171,0.455],[9178,0.447],[9184,0.439],[9191,0.455],[9197,0.462],[9204,0.47],[9208,0.53],[9211,0.591],[9213,0.545],[9216,0.606],[9218,0.636],[9221,0.515],[9224,0.47],[9228,0.462],[9232,0.455],[9237,0.462],[9241,0.5],[9245,0.545],[9247,0.5],[9250,0.485],[9254,0.47],[9258,0.47],[9263,0.462],[9267,0.47],[9271,0.5],[9275,0.515],[9278,0.515],[9280,0.576],[9283,0.621],[9285,0.667],[9288,0.606],[9291,0.659],[9293,0.606],[9296,0.621],[9299,0.591]];

// ---- Zero reference line (blue) ----
const zeroLine: [number, number][] = [[4749, 0], [9300, 0]];

// ---- Axes ----
const xRange = [4749, 9300];
const yRange = [-1.131, 1.183];
const xTicks = [5000, 6000, 7000, 8000, 9000];
const yTicks = [-1, -0.5, 0, 0.5, 1];
const titleText = "Spectrum of object 31049 in candels-cdfs-41";
const xLabel = "Wavelength";
const yLabel = "{b|10}{s|\u221218}{b| erg s}{s|\u22121}{b| cm}{s|\u22122}{b| \u00c5}{s|\u22121}";

const objData = [...obj4750, ...obj5325, ...obj5890, ...obj6460, ...obj7030, ...obj7595, ...obj8165, ...obj8730];
const skyData = [...sky4750, ...sky5330, ...sky5890, ...sky6460, ...sky7030, ...sky7595, ...sky8165, ...sky8730];

const FONT = "DejaVu Sans";

export default function App() {
  const ref = useRef<HTMLDivElement>(null);

  useEffect(() => {
    document.body.style.margin = "0";
    const chart = echarts.init(ref.current as HTMLDivElement, null, { renderer: "svg" });
    const axisLine = { show: true, onZero: false, lineStyle: { color: "#000000", width: 3.3 } };
    chart.setOption({
      animation: false,
      backgroundColor: "#ffffff",
      grid: {
        left: 375,
        right: 300,
        top: 108,
        bottom: 99,
        show: true,
        borderColor: "#000000",
        borderWidth: 3.3,
        backgroundColor: "transparent",
      },
      graphic: [
        {
          type: "text",
          x: 1537.5,
          y: 63,
          style: {
            text: titleText,
            font: `50px "${FONT}"`,
            fill: "#000000",
            align: "center",
            verticalAlign: "middle",
            textAlign: "center",
            textVerticalAlign: "middle",
          },
        },
      ],
      xAxis: {
        type: "value",
        min: xRange[0],
        max: xRange[1],
        name: xLabel,
        nameLocation: "middle",
        nameGap: 55,
        nameMoveOverlap: false,
        nameTextStyle: { fontFamily: FONT, fontSize: 33, color: "#000000", verticalAlign: "top" },
        axisLine,
        axisTick: { show: true, inside: false, length: 14.6, lineStyle: { color: "#000000", width: 3.3 }, customValues: xTicks },
        axisLabel: { show: true, customValues: xTicks, margin: 24, fontFamily: FONT, fontSize: 29, color: "#000000", formatter: (v: number) => String(v) },
        splitLine: { show: false },
      },
      yAxis: {
        type: "value",
        min: yRange[0],
        max: yRange[1],
        name: yLabel,
        nameLocation: "middle",
        nameRotate: 90,
        nameGap: 134,
        nameMoveOverlap: false,
        nameTextStyle: {
          fontFamily: FONT,
          color: "#000000",
          rich: {
            b: { fontFamily: FONT, fontSize: 45, lineHeight: 56, color: "#000000" },
            s: { fontFamily: FONT, fontSize: 32, lineHeight: 32, verticalAlign: "top", color: "#000000" },
          },
        },
        axisLine,
        axisTick: { show: true, inside: false, length: 14.6, lineStyle: { color: "#000000", width: 3.3 }, customValues: yTicks },
        axisLabel: {
          show: true,
          customValues: yTicks,
          margin: 32,
          fontFamily: FONT,
          fontSize: 34,
          color: "#000000",
          formatter: (v: number) => (v < 0 ? "\u2212" : "") + Math.abs(v).toFixed(1),
        },
        splitLine: { show: false },
      },
      series: [
        {
          type: "line",
          name: "sky",
          data: skyData,
          symbol: "none",
          showSymbol: false,
          silent: true,
          lineStyle: { color: "#008000", width: 1.8 },
          z: 2,
        },
        {
          type: "line",
          name: "zero",
          data: zeroLine,
          symbol: "none",
          showSymbol: false,
          silent: true,
          lineStyle: { color: "#0000ff", width: 6.25 },
          z: 3,
        },
        {
          type: "line",
          name: "flux",
          data: objData,
          symbol: "none",
          showSymbol: false,
          silent: true,
          lineStyle: { color: "#000000", width: 4.2, join: "round" },
          z: 4,
        },
      ],
    });
    return () => chart.dispose();
  }, []);

  return <div ref={ref} style={{ width: 3000, height: 900 }} />;
}
